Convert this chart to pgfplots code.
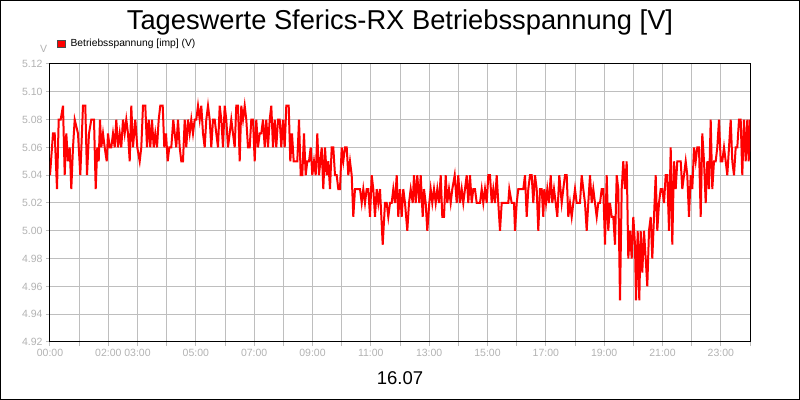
\documentclass[border=0pt]{standalone}
\usepackage{fontspec}
\setmainfont{Liberation Sans}
\usepackage{pgfplots}
\pgfplotsset{compat=1.18}
\usepackage{pgfplotstable}

\definecolor{gridgray}{RGB}{190,190,190}
\definecolor{labelgray}{RGB}{178,178,178}
\definecolor{linered}{RGB}{255,0,0}

% x = Bildspalte (50 = 00:00, 750 = 24:00), v = Spannung in V
\pgfplotstableread{
px v
50 5.04
53 5.07
54.7 5.07
57 5.03
58.7 5.08
60.7 5.08
63 5.09
64.7 5.04
66.3 5.07
68 5.05
69.7 5.06
71.3 5.03
73 5.06
74.7 5.08
78 5.07
80.3 5.04
83 5.09
85.3 5.09
87 5.04
89 5.07
91.3 5.08
94 5.08
95.7 5.03
97.3 5.06
98.7 5.05
100 5.08
101.3 5.06
103 5.07
104.7 5.06
106.7 5.05
108 5.07
109.7 5.06
111.3 5.06
113 5.07
114.7 5.06
116.3 5.08
118 5.06
119.7 5.07
121.3 5.06
123 5.08
124.7 5.07
126.3 5.08
128 5.07
129.7 5.05
131.3 5.09
133 5.06
135.3 5.08
137.3 5.06
139.7 5.05
141.3 5.06
143 5.09
145.3 5.09
147 5.06
148.7 5.08
150.3 5.06
152 5.08
153.7 5.06
155.3 5.07
157 5.06
158.7 5.08
160.3 5.09
162.7 5.09
164.3 5.06
166 5.07
167.7 5.05
169.3 5.06
171.3 5.06
173.3 5.08
174.7 5.07
176.3 5.06
178 5.08
179.7 5.06
181.3 5.05
183 5.05
184.7 5.08
186.3 5.06
188 5.08
189.7 5.07
191.3 5.08
193 5.07
194.7 5.08
196.3 5.08
198 5.09
199.7 5.08
201.3 5.09
203 5.07
204.7 5.06
206.3 5.08
208 5.09
209.7 5.08
211.3 5.06
213 5.08
214.7 5.08
216.3 5.07
218 5.06
219.7 5.09
221.3 5.08
223 5.06
224.7 5.09
226.3 5.08
228 5.06
229.7 5.07
231.3 5.08
233 5.07
234.7 5.06
236.3 5.09
238 5.09
239.7 5.05
241.3 5.09
243 5.08
244.7 5.09
246.3 5.08
248 5.06
249.7 5.06
251.3 5.08
253 5.08
254.7 5.05
256.3 5.08
258 5.06
259.7 5.07
261.3 5.07
263 5.08
264.7 5.06
266.3 5.08
268 5.06
269.7 5.08
271.3 5.09
273 5.06
274.7 5.08
276.3 5.06
278 5.08
279.7 5.08
281.3 5.06
283 5.08
284.7 5.06
286.3 5.09
288.7 5.09
290.3 5.05
292 5.07
293.7 5.05
295.7 5.05
297.3 5.05
299 5.08
300.7 5.04
302.3 5.04
304 5.07
305.7 5.04
307.3 5.05
309 5.05
310.7 5.06
312.3 5.04
314 5.05
315.7 5.04
317.3 5.07
319 5.04
321.7 5.06
323.3 5.03
325 5.06
326.7 5.04
328.3 5.05
330 5.03
331.7 5.06
333.3 5.06
335 5.04
336.7 5.04
338.3 5.03
340 5.03
341.7 5.06
343.3 5.05
345 5.06
346.7 5.06
348.3 5.04
350 5.05
351.7 5.04
353.3 5.01
355 5.03
356.7 5.03
360 5.03
361.7 5.02
363.3 5.03
365 5.02
366.7 5.03
368.3 5.03
370 5.01
371.7 5.04
373.3 5.03
375 5.01
376.7 5.03
378.3 5.02
380 5.03
382.7 4.99
385 5.02
386.7 5.02
388.3 5.01
390 5.02
391.7 5.02
393.3 5.03
395 5.02
396.7 5.04
398.3 5.01
400 5.03
401.7 5.01
403.3 5.03
405 5.02
407.3 5.00
409 5.02
410.7 5.03
412.7 5.02
414 5.04
415.7 5.02
417.3 5.04
419.3 5.02
420.7 5.04
422.7 5.01
424 5.03
425.7 5.02
427.3 5.00
429.3 5.02
430.7 5.03
432.3 5.02
434 5.03
435.7 5.02
437.3 5.03
439 5.02
440.7 5.04
442.3 5.01
444 5.01
445.7 5.04
447.3 5.02
449 5.03
450.7 5.02
452.3 5.03
454.7 5.04
456.7 5.02
458.3 5.04
460 5.02
461.7 5.03
463.3 5.02
465 5.03
466.7 5.04
468.3 5.02
470 5.04
471.7 5.02
473.3 5.03
475 5.03
476.7 5.02
478.3 5.02
480 5.02
481.7 5.03
483.3 5.02
485 5.03
486.7 5.02
488.3 5.04
490 5.04
491.7 5.02
493.3 5.03
495 5.02
496.7 5.04
498.3 5.02
500 5.00
501.7 5.02
505 5.02
508.3 5.02
509.3 5.03
511.7 5.02
514 5.02
515 5.00
516.7 5.02
518.3 5.03
520.7 5.03
523.3 5.03
525 5.04
526.7 5.01
528.3 5.03
530 5.04
531.7 5.04
533.3 5.02
535 5.04
536.7 5.03
538.3 5.00
540 5.03
541.7 5.03
543.3 5.01
544.3 5.03
546 5.02
547.3 5.03
549 5.02
550.7 5.04
552.3 5.02
554 5.03
555.7 5.02
557.3 5.01
559.3 5.04
561.7 5.02
563.3 5.03
565 5.04
566.7 5.04
568.3 5.01
570 5.02
571.7 5.01
573.3 5.02
575 5.03
576.7 5.02
578.3 5.02
580 5.02
581.7 5.04
583.3 5.03
585 5.02
586.7 5.00
588.3 5.02
590 5.04
591.7 5.02
593.3 5.03
595 5.02
596.7 5.01
598.3 5.02
600 5.02
601.7 5.03
603.3 5.03
605 4.99
606.7 5.04
608.3 5.00
610 5.02
611.7 5.01
613.3 5.01
615 4.99
616.7 5.04
618.3 5.03
620 4.95
621.7 5.03
623.3 5.05
625 5.03
626.7 5.05
628.3 4.98
630 5.00
631.7 4.98
633.3 5.01
635 4.99
636 4.95
637.7 5.00
639.3 4.95
640.7 5.00
642.3 4.97
644 5.00
645.7 4.98
647.3 4.96
649 5.00
650.7 5.01
652.3 4.98
654 5.01
655.7 5.04
657.3 5.00
659 5.02
660.7 5.03
662.3 5.03
664 5.02
665.7 5.04
667.3 5.04
669 5.00
670.7 5.06
672.3 4.99
674 5.05
675.7 5.03
677.3 5.05
679 5.05
680.7 5.05
682.3 5.03
684 5.04
685.7 5.05
687.3 5.04
689 5.01
690.7 5.04
692.3 5.03
694 5.06
695.7 5.05
697.3 5.06
699 5.06
700.7 5.01
702.3 5.07
704 5.05
705.7 5.02
707.3 5.05
709 5.03
710.7 5.08
712.3 5.03
714 5.05
715.7 5.05
717.3 5.06
719 5.08
720.7 5.05
722.3 5.05
724 5.06
725.7 5.05
727.3 5.04
729 5.06
730.7 5.08
732.3 5.05
734 5.04
735.7 5.06
737.3 5.06
739 5.08
740.7 5.08
742.3 5.04
744 5.08
745.7 5.05
747.3 5.08
748.7 5.05
750 5.08
}\spannung

\begin{document}
\begin{tikzpicture}
\useasboundingbox (0bp,0bp) rectangle (800bp,400bp);
\draw[black, line width=1bp] (0.5bp,0.5bp) rectangle (799.5bp,399.5bp);
\node[font=\fontsize{27.3bp}{32bp}\selectfont, anchor=base] at (400bp,370bp) {Tageswerte Sferics-RX Betriebsspannung [V]};
\node[font=\fontsize{18.5bp}{22bp}\selectfont, anchor=base] at (400bp,15.7bp) {16.07};
\node[font=\fontsize{10.5bp}{12bp}\selectfont, text=labelgray, anchor=base] at (43.7bp,347.3bp) {V};
\begin{axis}[
  at={(50bp,58bp)}, anchor=south west,
  width=700bp, height=278bp, scale only axis,
  xmin=50, xmax=750, ymin=4.92, ymax=5.12,
  xtick={50,79.17,108.33,137.5,166.67,195.83,225,254.17,283.33,312.5,341.67,370.83,400,429.17,458.33,487.5,516.67,545.83,575,604.17,633.33,662.5,691.67,720.83,750},
  xticklabels={00:00,{},02:00,03:00,{},05:00,{},07:00,{},09:00,{},11:00,{},13:00,{},15:00,{},17:00,{},19:00,{},21:00,{},23:00,{}},
  ytick={4.92,4.94,4.96,4.98,5.00,5.02,5.04,5.06,5.08,5.10,5.12},
  yticklabel style={/pgf/number format/.cd, fixed, fixed zerofill, precision=2, assume math mode=true},
  ticklabel style={font=\fontsize{10.5bp}{12bp}\selectfont, text=labelgray},
  tick pos=left, tick align=outside, major tick length=4bp,
  tick style={gridgray, line width=1bp},
  grid=major, major grid style={gridgray, line width=1bp},
  axis line style={black, line width=1bp},
  legend style={at={(axis description cs:0,1)}, anchor=west, xshift=7.3bp, yshift=20.2bp,
    draw=none, fill=none, inner sep=0pt, font=\fontsize{10.3bp}{12bp}\selectfont,
    nodes={inner sep=1.5bp}},
  legend cell align=left,
  legend image code/.code={\draw[fill=linered, draw=black!70, line width=0.6bp] (0bp,-3.8bp) rectangle (7.6bp,3.8bp); \path (10.3bp,0bp);},
]
\addplot[linered, line width=2bp] table[x=px, y=v] {\spannung};
\addlegendentry{Betriebsspannung [imp] (V)}
\end{axis}
\end{tikzpicture}
\end{document}
